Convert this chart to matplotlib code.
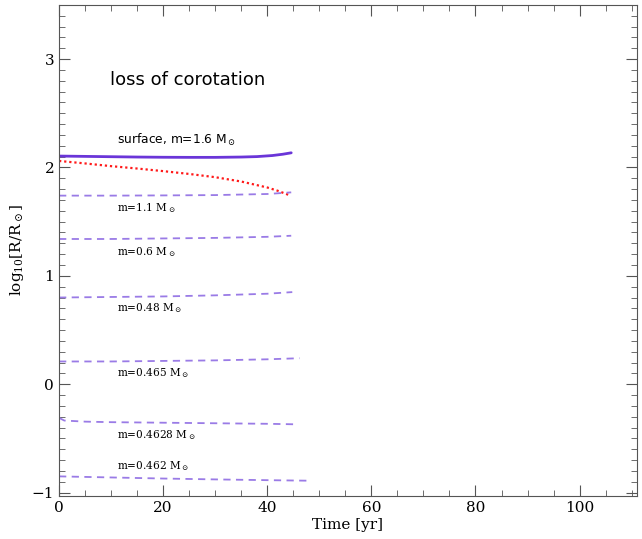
import numpy as np
import matplotlib
matplotlib.use("Agg")
import matplotlib.pyplot as plt
from matplotlib.ticker import MultipleLocator

# --------------------
# Data
# --------------------
t_surf = [0, 5, 10, 15, 20, 25, 30, 35, 38, 41, 43, 44.6]
surface = [2.105, 2.102, 2.099, 2.096, 2.094, 2.093, 2.093, 2.096, 2.10, 2.11, 2.122, 2.135]

t_corot = [0, 5, 10, 15, 20, 25, 30, 35, 40, 42, 44.2]
corot = [2.06, 2.037, 2.012, 1.99, 1.966, 1.94, 1.91, 1.87, 1.815, 1.785, 1.745]

t_std = [0, 10, 20, 30, 40, 44.6]
m_11 = [1.74, 1.74, 1.742, 1.745, 1.755, 1.77]
m_06 = [1.34, 1.34, 1.345, 1.35, 1.36, 1.37]

t_048 = [0, 10, 20, 30, 40, 44.8]
m_048 = [0.80, 0.805, 0.81, 0.82, 0.835, 0.85]

t_0465 = [0, 10, 20, 30, 40, 46.2]
m_0465 = [0.21, 0.21, 0.215, 0.22, 0.23, 0.24]

t_04628 = [0, 1, 5, 10, 20, 30, 40, 45.8]
m_04628 = [-0.31, -0.335, -0.345, -0.35, -0.355, -0.36, -0.365, -0.37]

t_0462 = [0, 10, 20, 30, 40, 48]
m_0462 = [-0.85, -0.86, -0.87, -0.878, -0.885, -0.89]

labels = ["m=1.1 M$_\\odot$", "m=0.6 M$_\\odot$", "m=0.48 M$_\\odot$",
          "m=0.465 M$_\\odot$", "m=0.4628 M$_\\odot$", "m=0.462 M$_\\odot$"]
label_y = [1.60, 1.19, 0.67, 0.07, -0.50, -0.78]

# --------------------
# Plot
# --------------------
plt.rcParams['font.family'] = ['DejaVu Serif']
plt.rcParams['mathtext.fontset'] = 'dejavuserif'

fig = plt.figure(figsize=(6.42, 5.39), dpi=100)
ax = fig.add_axes([0.092, 0.080, 0.900, 0.911])

purple = '#6a35d8'
lilac = '#9a7be6'
ax.plot(t_surf, surface, color=purple, lw=2.0, solid_capstyle='round')
ax.plot(t_corot, corot, color='#ff1a1a', lw=1.6, ls=(0, (1, 1.3)))
dash = (0, (4, 3))
ax.plot(t_std, m_11, color=lilac, lw=1.3, ls=dash)
ax.plot(t_std, m_06, color=lilac, lw=1.3, ls=dash)
ax.plot(t_048, m_048, color=lilac, lw=1.3, ls=dash)
ax.plot(t_0465, m_0465, color=lilac, lw=1.3, ls=dash)
ax.plot(t_04628, m_04628, color=lilac, lw=1.3, ls=dash)
ax.plot(t_0462, m_0462, color=lilac, lw=1.3, ls=dash)

ax.text(9.8, 2.76, "loss of corotation", fontsize=13, family='DejaVu Sans')
ax.text(11.1, 2.22, "surface, m=1.6 M$_\\odot$", fontsize=8.8, family='DejaVu Sans')
for lab, yy in zip(labels, label_y):
    ax.text(11.1, yy, lab, fontsize=7.6)

ax.set_xlim(0, 111)
ax.set_ylim(-1.03, 3.5)
ax.xaxis.set_major_locator(MultipleLocator(20))
ax.xaxis.set_minor_locator(MultipleLocator(5))
ax.yaxis.set_major_locator(MultipleLocator(1))
ax.yaxis.set_minor_locator(MultipleLocator(0.1))
ax.tick_params(which='both', direction='in', top=True, right=True, labelsize=11, color='#555555')
ax.tick_params(which='major', length=8)
ax.tick_params(which='minor', length=4)
for s in ax.spines.values():
    s.set_color('#555555')

ax.set_xlabel("Time [yr]", fontsize=11, labelpad=2)
ax.set_ylabel("log$_{10}$[R/R$_\\odot$]", fontsize=11, labelpad=4)

fig.savefig("out.png", dpi=100)
